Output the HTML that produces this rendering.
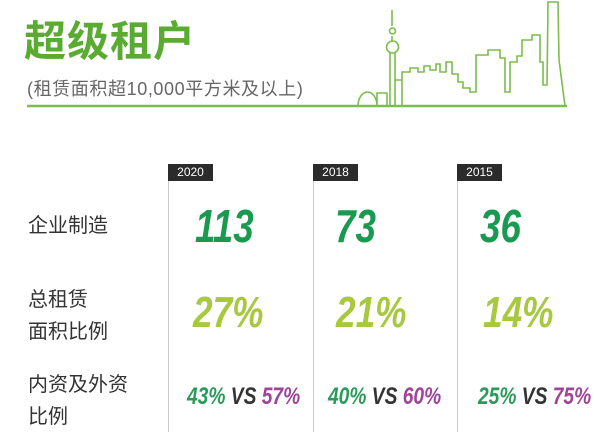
<!DOCTYPE html>
<html><head><meta charset="utf-8"><style>
body{margin:0;width:609px;height:445px;background:#fff;position:relative;overflow:hidden;font-family:"Liberation Sans","Noto Sans CJK SC",sans-serif}
.a{position:absolute;white-space:nowrap}
.t{left:24px;top:8px;font-size:42px;font-weight:bold;color:#5aab32;letter-spacing:1px}
.s{left:27px;top:75px;font-size:18px;color:#666;letter-spacing:0.6px}
.lab{font-size:20px;color:#333;line-height:32px}
.tag{background:#2b2b2b;color:#fff;font-size:12px;width:45px;height:17px;line-height:17px;text-align:center}
.vl{width:1px;background:#ccc;top:181px;height:251px}
.n{font-weight:bold;font-style:italic;transform:scaleX(.8);transform-origin:left}
.big{font-size:46px;color:#1a9a50}
.pct{font-size:44px;color:#a8c840}
.sm{font-size:24px}
.g{color:#2a9a58}.k{color:#333}.p{color:#a0449a}
</style></head><body>
<div class="a t">超级租户</div>
<div class="a s">(租赁面积超10,000平方米及以上)</div>
<svg class="a" style="left:0;top:0" width="609" height="110">
<line x1="27" y1="106" x2="567" y2="106" stroke="#7cbd4e" stroke-width="2.5"/>
<path d="M358 106 A9.5 14 0 0 1 377 106 M377 106 V93 H387 V106 M390 106 V53 M395 106 V53 M392 41 V36 M392 26 V10 M395 80 H402 M402 106 V72 H410 V68 H418 V72 H424 V66 H430 V70 H436 V64 H440 V72 H446 V62 H452 V74 H458 V82 H463 V88 H470 V92 H476 V55 H488 V50 H500 V58 H505 V92 H510 V62 H517 V56 H522 V40 H532 V35 H540 V62 H543 V85 H547 L548 2 H558 L559 60 L565 106" fill="none" stroke="#7cbd4e" stroke-width="1.6"/>
<circle cx="392.5" cy="47" r="6" fill="none" stroke="#7cbd4e" stroke-width="1.6"/>
<circle cx="392.5" cy="31" r="3" fill="none" stroke="#7cbd4e" stroke-width="1.6"/>
</svg>
<div class="a tag" style="left:168px;top:164px">2020</div>
<div class="a tag" style="left:313px;top:164px">2018</div>
<div class="a tag" style="left:457px;top:164px">2015</div>
<div class="a vl" style="left:168px"></div>
<div class="a vl" style="left:313px"></div>
<div class="a vl" style="left:457px"></div>
<div class="a lab" style="left:28px;top:210px">企业制造</div>
<div class="a lab" style="left:28px;top:284px">总租赁<br>面积比例</div>
<div class="a lab" style="left:28px;top:369px">内资及外资<br>比例</div>
<div class="a n big" style="left:195px;top:199px">113</div>
<div class="a n big" style="left:335px;top:199px">73</div>
<div class="a n big" style="left:480px;top:199px">36</div>
<div class="a n pct" style="left:193px;top:288px">27%</div>
<div class="a n pct" style="left:336px;top:288px">21%</div>
<div class="a n pct" style="left:483px;top:288px">14%</div>
<div class="a n sm" style="left:187px;top:383px"><span class="g">43%</span> <span class="k">VS</span> <span class="p">57%</span></div>
<div class="a n sm" style="left:328px;top:383px"><span class="g">40%</span> <span class="k">VS</span> <span class="p">60%</span></div>
<div class="a n sm" style="left:478px;top:383px"><span class="g">25%</span> <span class="k">VS</span> <span class="p">75%</span></div>
</body></html>
